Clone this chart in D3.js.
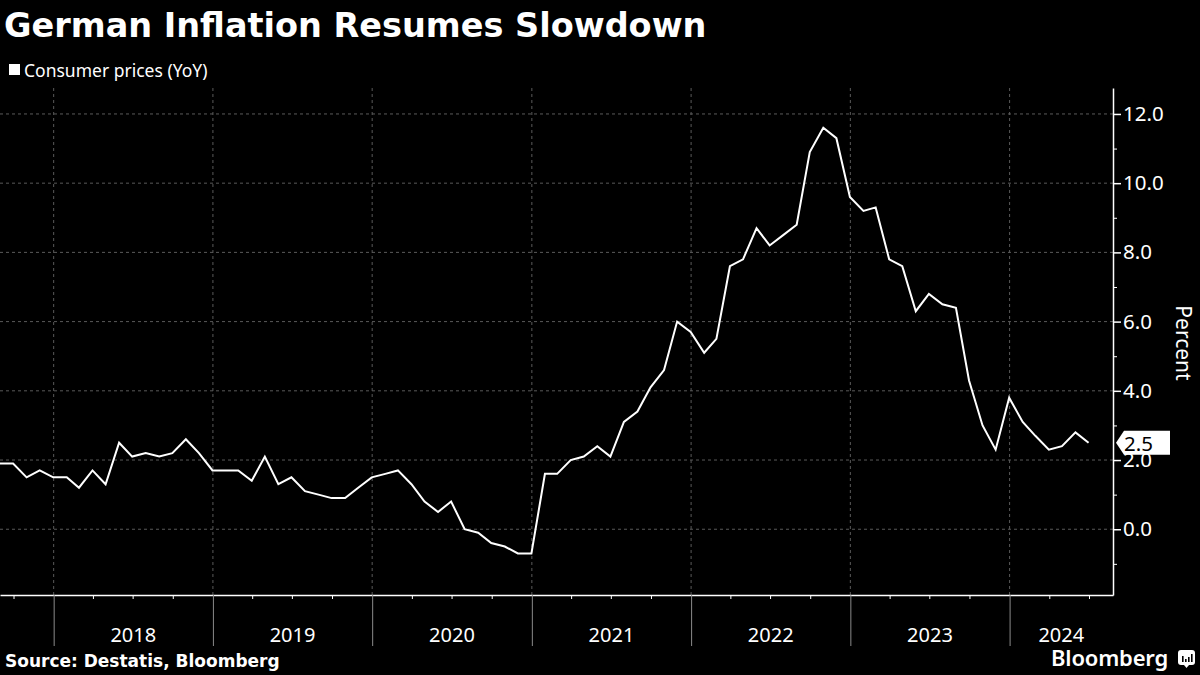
<!DOCTYPE html>
<html>
<head>
<meta charset="utf-8">
<script src="https://cdn.jsdelivr.net/npm/d3@7"></script>
<style>
  html, body { margin: 0; padding: 0; background: #000; }
  #chart { width: 1200px; height: 675px; }
</style>
</head>
<body>
<div id="chart"></div>
<script>
// German CPI YoY, monthly (month-end), Aug 2017 .. Jun 2024
const months = [
  "2017-08","2017-09","2017-10","2017-11","2017-12",
  "2018-01","2018-02","2018-03","2018-04","2018-05","2018-06","2018-07","2018-08","2018-09","2018-10","2018-11","2018-12",
  "2019-01","2019-02","2019-03","2019-04","2019-05","2019-06","2019-07","2019-08","2019-09","2019-10","2019-11","2019-12",
  "2020-01","2020-02","2020-03","2020-04","2020-05","2020-06","2020-07","2020-08","2020-09","2020-10","2020-11","2020-12",
  "2021-01","2021-02","2021-03","2021-04","2021-05","2021-06","2021-07","2021-08","2021-09","2021-10","2021-11","2021-12",
  "2022-01","2022-02","2022-03","2022-04","2022-05","2022-06","2022-07","2022-08","2022-09","2022-10","2022-11","2022-12",
  "2023-01","2023-02","2023-03","2023-04","2023-05","2023-06","2023-07","2023-08","2023-09","2023-10","2023-11","2023-12",
  "2024-01","2024-02","2024-03","2024-04","2024-05","2024-06"
];
const cpiYoY = [
  1.9, 1.9, 1.5, 1.7, 1.5,
  1.5, 1.2, 1.7, 1.3, 2.5, 2.1, 2.2, 2.1, 2.2, 2.6, 2.2, 1.7,
  1.7, 1.7, 1.4, 2.1, 1.3, 1.5, 1.1, 1.0, 0.9, 0.9, 1.2, 1.5,
  1.6, 1.7, 1.3, 0.8, 0.5, 0.8, 0.0, -0.1, -0.4, -0.5, -0.7, -0.7,
  1.6, 1.6, 2.0, 2.1, 2.4, 2.1, 3.1, 3.4, 4.1, 4.6, 6.0, 5.7,
  5.1, 5.5, 7.6, 7.8, 8.7, 8.2, 8.5, 8.8, 10.9, 11.6, 11.3, 9.6,
  9.2, 9.3, 7.8, 7.6, 6.3, 6.8, 6.5, 6.4, 4.3, 3.0, 2.3, 3.8,
  3.1, 2.7, 2.3, 2.4, 2.8, 2.5
];
const yTicks = [0, 2, 4, 6, 8, 10, 12];
const yMinorTicks = [-1, 1, 3, 5, 7, 9, 11];
const yearLabels = ["2018", "2019", "2020", "2021", "2022", "2023", "2024"];
const xStart = "2017-08-31", xEnd = "2024-08-25";

function drawChart() {
  const W = 1200, H = 675;
  const plot = { left: 0, right: 1113, top: 88, bottom: 595 };
  const parseMonth = d3.timeParse("%Y-%m");
  const parseDay = d3.timeParse("%Y-%m-%d");

  // month-end dates
  const data = months.map((m, i) => ({
    date: d3.timeDay.offset(d3.timeMonth.offset(parseMonth(m), 1), -1),
    value: cpiYoY[i]
  }));

  const svg = d3.select("#chart").append("svg")
    .attr("width", W)
    .attr("height", H)
    .style("background", "#000");

  const x = d3.scaleTime()
    .domain([parseDay(xStart), parseDay(xEnd)])
    .range([plot.left, plot.right]);

  const y = d3.scaleLinear()
    .domain([-1.9, 12.75])
    .range([plot.bottom, plot.top]);

  const yearStarts = yearLabels.map(yr => parseDay(yr + "-01-01"));
  const quarterTicks = d3.timeMonth.every(3).range(x.domain()[0], x.domain()[1])
    .filter(d => d.getMonth() !== 0);

  // Title
  svg.append("text")
    .attr("x", 4).attr("y", 37)
    .attr("fill", "#fff")
    .style("font-family", "DejaVu Sans")
    .style("font-weight", "bold")
    .style("font-size", "33.5px")
    .text("German Inflation Resumes Slowdown");

  // Legend
  svg.append("rect")
    .attr("x", 9).attr("y", 64).attr("width", 11).attr("height", 11)
    .attr("fill", "#fff");
  svg.append("text")
    .attr("x", 24).attr("y", 77)
    .attr("fill", "#fff")
    .style("font-family", "Noto Sans")
    .style("font-size", "17.5px")
    .text("Consumer prices (YoY)");

  // Gridlines
  svg.append("g")
    .selectAll("line")
    .data(yTicks)
    .enter().append("line")
      .attr("x1", plot.left).attr("x2", plot.right)
      .attr("y1", d => y(d)).attr("y2", d => y(d))
      .attr("stroke", "#5a5a5a")
      .attr("stroke-width", 1)
      .attr("stroke-dasharray", "3,3");
  svg.append("g")
    .selectAll("line")
    .data(yearStarts)
    .enter().append("line")
      .attr("x1", d => x(d)).attr("x2", d => x(d))
      .attr("y1", plot.top).attr("y2", plot.bottom)
      .attr("stroke", "#5a5a5a")
      .attr("stroke-width", 1)
      .attr("stroke-dasharray", "3,3");

  // X axis: quarter ticks + year dividers
  const xAxis = svg.append("g")
    .attr("transform", `translate(0,${plot.bottom})`)
    .call(d3.axisBottom(x).tickValues(quarterTicks).tickSize(4).tickFormat("").tickSizeOuter(0));
  xAxis.select(".domain").attr("stroke", "#fff").attr("stroke-width", 1.5);
  xAxis.selectAll(".tick line").attr("stroke", "#fff");

  const yearAxis = svg.append("g")
    .attr("transform", `translate(0,${plot.bottom})`)
    .call(d3.axisBottom(x).tickValues(yearStarts).tickSize(51).tickFormat(""));
  yearAxis.select(".domain").remove();
  yearAxis.selectAll(".tick line").attr("stroke", "#8a8a8a");

  // Year labels centred in the visible part of each year
  svg.append("g")
    .selectAll("text")
    .data(yearLabels)
    .enter().append("text")
      .attr("x", (d, i) => {
        const a = x(yearStarts[i]);
        const b = i < yearStarts.length - 1 ? x(yearStarts[i + 1]) : plot.right;
        return (a + b) / 2;
      })
      .attr("y", 642)
      .attr("text-anchor", "middle")
      .attr("fill", "#fff")
      .style("font-family", "Noto Sans")
      .style("font-size", "20px")
      .text(d => d);

  // Right Y axis
  const yAxis = svg.append("g")
    .attr("transform", `translate(${plot.right},0)`)
    .call(d3.axisRight(y).tickValues(yTicks).tickSize(8).tickPadding(2)
      .tickFormat(d3.format(".1f")).tickSizeOuter(0));
  yAxis.select(".domain").attr("stroke", "#fff").attr("stroke-width", 1.5);
  yAxis.selectAll(".tick line").attr("stroke", "#fff").attr("stroke-width", 1.5);
  yAxis.selectAll(".tick text")
    .attr("fill", "#fff")
    .style("font-family", "Noto Sans")
    .style("font-size", "20.5px");

  const yMinor = svg.append("g")
    .attr("transform", `translate(${plot.right},0)`)
    .call(d3.axisRight(y).tickValues(yMinorTicks).tickSize(4).tickFormat(""));
  yMinor.select(".domain").remove();
  yMinor.selectAll(".tick line").attr("stroke", "#fff");

  svg.append("text")
    .attr("transform", "translate(1176,343) rotate(90)")
    .attr("text-anchor", "middle")
    .attr("fill", "#fff")
    .style("font-family", "Noto Sans")
    .style("font-size", "21px")
    .text("Percent");

  // Line
  const line = d3.line()
    .x(d => x(d.date))
    .y(d => y(d.value));
  svg.append("path")
    .datum(data)
    .attr("fill", "none")
    .attr("stroke", "#fff")
    .attr("stroke-width", 2)
    .attr("stroke-linejoin", "miter")
    .attr("d", line);

  // Last value tag
  const last = data[data.length - 1];
  const ly = y(last.value);
  const tx = plot.right + 3;
  svg.append("path")
    .attr("d", `M${tx},${ly} L${tx + 8},${ly - 12} L${tx + 54},${ly - 12} L${tx + 54},${ly + 12} L${tx + 8},${ly + 12} Z`)
    .attr("fill", "#fff");
  svg.append("text")
    .attr("x", tx + 8).attr("y", ly + 8)
    .attr("fill", "#000")
    .style("font-family", "Noto Sans")
    .style("font-size", "20.5px")
    .text(d3.format(".1f")(last.value));

  // Footer
  svg.append("text")
    .attr("x", 5).attr("y", 667)
    .attr("fill", "#fff")
    .style("font-family", "DejaVu Sans")
    .style("font-weight", "bold")
    .style("font-size", "17px")
    .text("Source: Destatis, Bloomberg");

  svg.append("text")
    .attr("x", 1168).attr("y", 666)
    .attr("text-anchor", "end")
    .attr("fill", "#fff")
    .style("font-family", "Noto Sans")
    .style("font-weight", 600)
    .style("font-size", "22px")
    .style("letter-spacing", "-0.2px")
    .text("Bloomberg");

  // little logo badge
  const logo = svg.append("g").attr("transform", "translate(1178,650)");
  logo.append("rect")
    .attr("width", 17).attr("height", 15).attr("rx", 3)
    .attr("fill", "#fff");
  logo.append("path")
    .attr("d", "M6,15 L8.5,18 L11,15 Z")
    .attr("fill", "#fff");
  logo.selectAll("rect.bar")
    .data([[4, 6], [7, 3], [10, 5], [13, 8]])
    .enter().append("rect")
      .attr("class", "bar")
      .attr("x", d => d[0]).attr("y", d => 12 - d[1])
      .attr("width", 1.6).attr("height", d => d[1])
      .attr("fill", "#000");
}

drawChart();
</script>
</body>
</html>
